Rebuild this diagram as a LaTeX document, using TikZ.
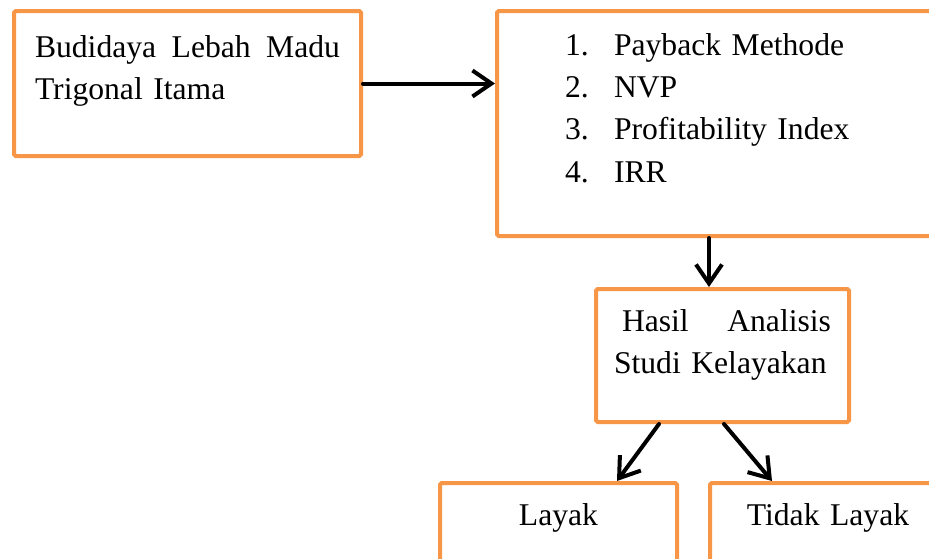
\documentclass[tikz,border=0pt]{standalone}
\usepackage{fontspec}
\setmainfont{Liberation Serif}
\usetikzlibrary{positioning, arrows.meta}
\tikzset{every node/.append style={execute at begin node={\hyphenpenalty=10000\exhyphenpenalty=10000\relax}}}
\definecolor{oranye}{HTML}{F79646}

\begin{document}
\begin{tikzpicture}[font=\fontsize{18}{24.1}\selectfont, >={Straight Barb[length=0.38cm, width=0.52cm]},
  kotak/.style={draw=oranye, line width=0.08cm, rounded corners=1pt, anchor=north west,
                inner xsep=0.42cm, inner ysep=0pt},
  panah/.style={->, line width=0.08cm, line cap=round, black},
]
  \useasboundingbox (0,0) rectangle (18.58,-11.16);
  \clip (0,0) rectangle (18.58,-11.16);

  \node[kotak, align=left, text width=6.1cm, text height=0.92cm, text depth=1.98cm]
    (budidaya) at (0.24,-0.18) {Budidaya\hfill Lebah\hfill Madu\\Trigonal Itama};
  \node[kotak, align=left, inner xsep=1.36cm, text width=6.88cm, text height=0.88cm, text depth=3.62cm]
    (metode) at (9.9,-0.18) {%
      \makebox[0.98cm][l]{1.}Payback Methode\\
      \makebox[0.98cm][l]{2.}NVP\\
      \makebox[0.98cm][l]{3.}Profitability Index\\
      \makebox[0.98cm][l]{4.}IRR};
  \node[kotak, align=left, inner xsep=0.36cm, text width=4.34cm, text height=0.84cm, text depth=1.82cm]
    (hasil) at (11.88,-5.74) {\hspace*{0.16cm}Hasil\hfill Analisis\hspace*{0.08cm}\\Studi Kelayakan};
  \node[kotak, align=center, text width=3.9cm, text height=0.84cm, text depth=2cm]
    (layak) at (8.76,-9.62) {Layak};
  \node[kotak, align=center, text width=3.88cm, text height=0.84cm, text depth=2cm]
    (tidaklayak) at (14.16,-9.62) {Tidak Layak};

  \draw[panah] (budidaya.east) -- (budidaya.east -| metode.west);
  \draw[panah] ([xshift=-0.27cm]hasil.north |- metode.south) -- ([xshift=-0.27cm]hasil.north);
  \draw[panah] ([xshift=-1.27cm]hasil.south) -- ([xshift=1.17cm]layak.north);
  \draw[panah] ([xshift=0.03cm]hasil.south) -- ([xshift=-1.12cm]tidaklayak.north);
\end{tikzpicture}
\end{document}
